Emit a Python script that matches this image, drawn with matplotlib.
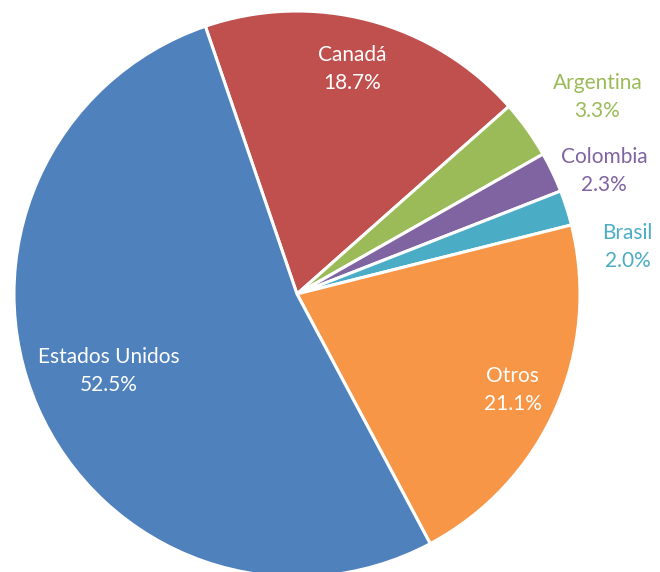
import numpy as np
import matplotlib.pyplot as plt

plt.rcParams['font.family'] = ['Lato', 'DejaVu Sans']

paises = ["Canadá", "Argentina", "Colombia", "Brasil", "Otros", "Estados Unidos"]
porcentajes = [18.7, 3.3, 2.3, 2.0, 21.1, 52.5]
colores = ["#C0504D", "#9BBB59", "#8064A2", "#4BACC6", "#F79646", "#4F81BD"]

# label placement: (radius factor, angle shift in degrees, text colour)
label_pos = [
    (0.82, 1.0, "white"),
    (1.27, -2.3, None),
    (1.17, -3.6, None),
    (1.18, -9.7, None),
    (0.834, 0.0, "white"),
    (0.72, -1.3, "white"),
]

fig = plt.figure(figsize=(6.6, 5.72), dpi=100)
R = 283
ax = fig.add_axes([(297 - R) / 660, (572 - 294 - R) / 572, 2 * R / 660, 2 * R / 572])

wedges, _ = ax.pie(porcentajes, colors=colores, startangle=108.9, counterclock=False,
                   wedgeprops=dict(edgecolor="white", linewidth=2.2))

for w, nombre, p, (rf, da, tc) in zip(wedges, paises, porcentajes, label_pos):
    ang = np.deg2rad((w.theta1 + w.theta2) / 2 + da)
    x, y = rf * np.cos(ang), rf * np.sin(ang)
    col = tc if tc else w.get_facecolor()
    ax.text(x, y, f"{nombre}\n{p:.1f}%", ha="center", va="center", color=col,
            fontsize=15, linespacing=1.5)

ax.set_xlim(-1, 1)
ax.set_ylim(-1, 1)
ax.set_aspect("equal")
ax.axis("off")

plt.savefig("out.png", dpi=100)
